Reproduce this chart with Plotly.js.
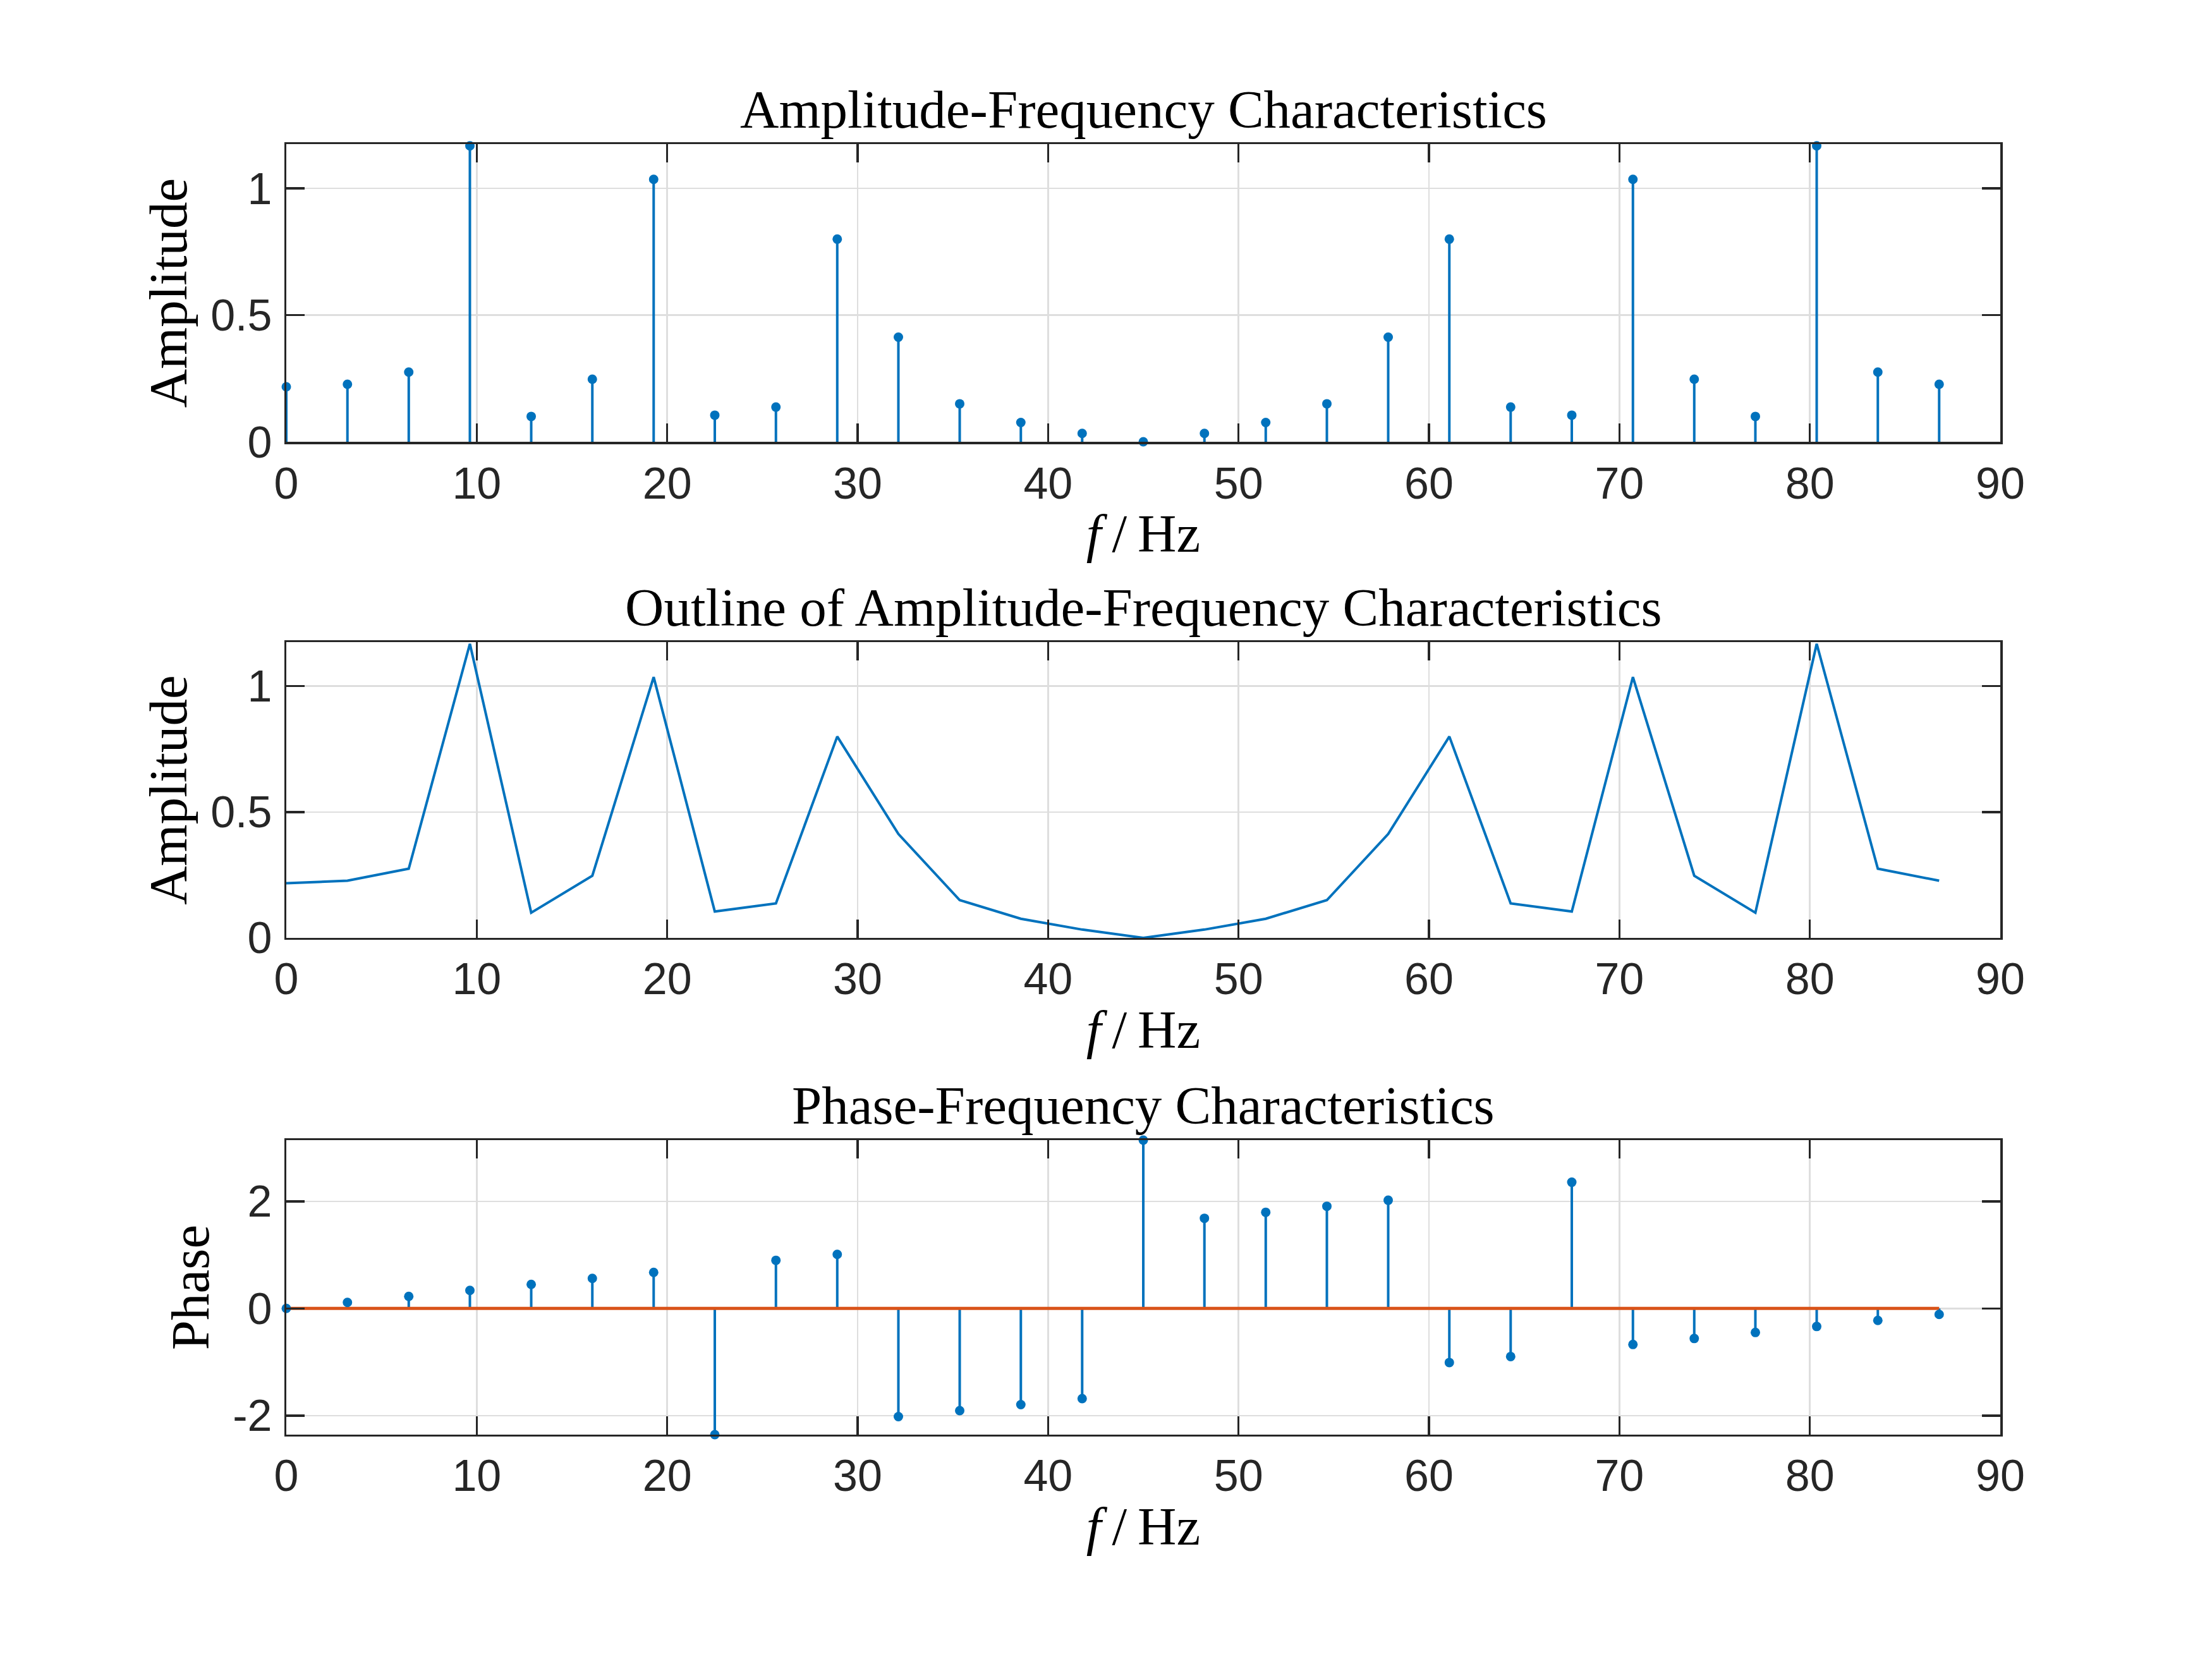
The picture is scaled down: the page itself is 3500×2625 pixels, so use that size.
<!DOCTYPE html>
<html>
<head>
<meta charset="utf-8">
<script src="https://cdn.plot.ly/plotly-3.0.1.min.js"></script>
<style>html,body{margin:0;padding:0;background:#fff;}#chart{width:3500px;height:2625px;}</style>
</head>
<body>
<div id="chart"></div>
<script>
// Frequency bins (Hz)
const freq = [0, 3.21, 6.43, 9.64, 12.86, 16.07, 19.29, 22.5, 25.71, 28.93, 32.14, 35.36, 38.57, 41.79,
              45, 48.21, 51.43, 54.64, 57.86, 61.07, 64.29, 67.5, 70.71, 73.93, 77.14, 80.36, 83.57, 86.79];
// Amplitude spectrum
const amplitude = [0.217, 0.227, 0.275, 1.168, 0.100, 0.247, 1.036, 0.105, 0.137, 0.800, 0.413, 0.150, 0.076, 0.033,
                   0.000, 0.033, 0.076, 0.150, 0.413, 0.800, 0.137, 0.105, 1.036, 0.247, 0.100, 1.168, 0.275, 0.227];
// Phase spectrum (rad)
const phase = [0, 0.112, 0.224, 0.337, 0.449, 0.561, 0.673, -2.356, 0.898, 1.010, -2.020, -1.907, -1.795, -1.683,
               3.141, 1.683, 1.795, 1.907, 2.020, -1.010, -0.898, 2.356, -0.673, -0.561, -0.449, -0.337, -0.224, -0.112];

const titles = ["Amplitude-Frequency Characteristics", "Outline of Amplitude-Frequency Characteristics", "Phase-Frequency Characteristics"];
const yTitles = ["Amplitude", "Amplitude", "Phase"];
const xTitle = "<i>f</i>\u2009/\u2009Hz";
const xTicks = [0, 10, 20, 30, 40, 50, 60, 70, 80, 90];
const ampTicks = [0, 0.5, 1];
const phaseTicks = [-2, 0, 2];

const BLUE = '#0072BD', ORANGE = '#D95319', AX = '#262626';

function stem(x, y) {
  const xs = [], ys = [];
  for (let i = 0; i < x.length; i++) { xs.push(x[i], x[i], null); ys.push(0, y[i], null); }
  return {xs, ys};
}

const s1 = stem(freq, amplitude);
const s3 = stem(freq, phase);

const traces = [
  {x: s1.xs, y: s1.ys, xaxis: 'x', yaxis: 'y', mode: 'lines', line: {color: BLUE, width: 4}, hoverinfo: 'skip', cliponaxis: false},
  {x: freq, y: amplitude, xaxis: 'x', yaxis: 'y', mode: 'markers', marker: {color: BLUE, size: 15}, cliponaxis: false},
  {x: freq, y: amplitude, xaxis: 'x2', yaxis: 'y2', mode: 'lines', line: {color: BLUE, width: 4}, cliponaxis: false},
  {x: s3.xs, y: s3.ys, xaxis: 'x3', yaxis: 'y3', mode: 'lines', line: {color: BLUE, width: 4}, hoverinfo: 'skip', cliponaxis: false},
  {x: freq, y: freq.map(() => 0), xaxis: 'x3', yaxis: 'y3', mode: 'lines', line: {color: ORANGE, width: 5}},
  {x: freq, y: phase, xaxis: 'x3', yaxis: 'y3', mode: 'markers', marker: {color: BLUE, size: 15}, cliponaxis: false}
];

const tickFont = {family: 'Liberation Sans, Arial, sans-serif', size: 70, color: AX};
const serif = {family: 'Liberation Serif, Times New Roman, serif', size: 85, color: '#000'};

function xa(dom, anchor) {
  return {
    domain: dom, anchor: anchor, range: [0, 90], tickvals: xTicks, ticktext: xTicks.map(String),
    ticks: 'inside', ticklen: 29, tickwidth: 3.5, tickcolor: AX,
    showline: true, linecolor: AX, linewidth: 3.5, mirror: 'ticks',
    showgrid: true, gridcolor: '#dedede', gridwidth: 2.5, zeroline: false,
    tickfont: tickFont, ticklabelstandoff: 2,
    title: {text: xTitle, font: serif, standoff: 12}
  };
}
function ya(dom, anchor, range, ticks, title) {
  return {
    domain: dom, anchor: anchor, range: range, tickvals: ticks, ticktext: ticks.map(String),
    ticks: 'inside', ticklen: 29, tickwidth: 3.5, tickcolor: AX,
    showline: true, linecolor: AX, linewidth: 3.5, mirror: 'ticks',
    showgrid: true, gridcolor: '#dedede', gridwidth: 2.5, zeroline: false,
    tickfont: tickFont, ticklabelstandoff: 5,
    title: {text: title, font: serif, standoff: 10}
  };
}

const xd = [0.12943, 0.90429];
const yd1 = [0.73371, 0.91314], yd2 = [0.43467, 0.61295], yd3 = [0.13524, 0.31276];

const layout = {
  width: 3500, height: 2625,
  margin: {l: 0, r: 0, t: 0, b: 0},
  paper_bgcolor: '#fff', plot_bgcolor: '#fff',
  showlegend: false,
  xaxis: xa(xd, 'y'), yaxis: ya(yd1, 'x', [0, 1.175], ampTicks, yTitles[0]),
  xaxis2: xa(xd, 'y2'), yaxis2: ya(yd2, 'x2', [0, 1.175], ampTicks, yTitles[1]),
  xaxis3: xa(xd, 'y3'), yaxis3: ya(yd3, 'x3', [-2.356, 3.1416], phaseTicks, yTitles[2]),
  annotations: [[yd1, titles[0]], [yd2, titles[1]], [yd3, titles[2]]].map(([d, t]) => ({
    text: t, xref: 'paper', yref: 'paper', x: (xd[0] + xd[1]) / 2, y: d[1],
    xanchor: 'center', yanchor: 'bottom', yshift: 6, showarrow: false, font: serif
  }))
};

Plotly.newPlot('chart', traces, layout, {staticPlot: true});
</script>
</body>
</html>
